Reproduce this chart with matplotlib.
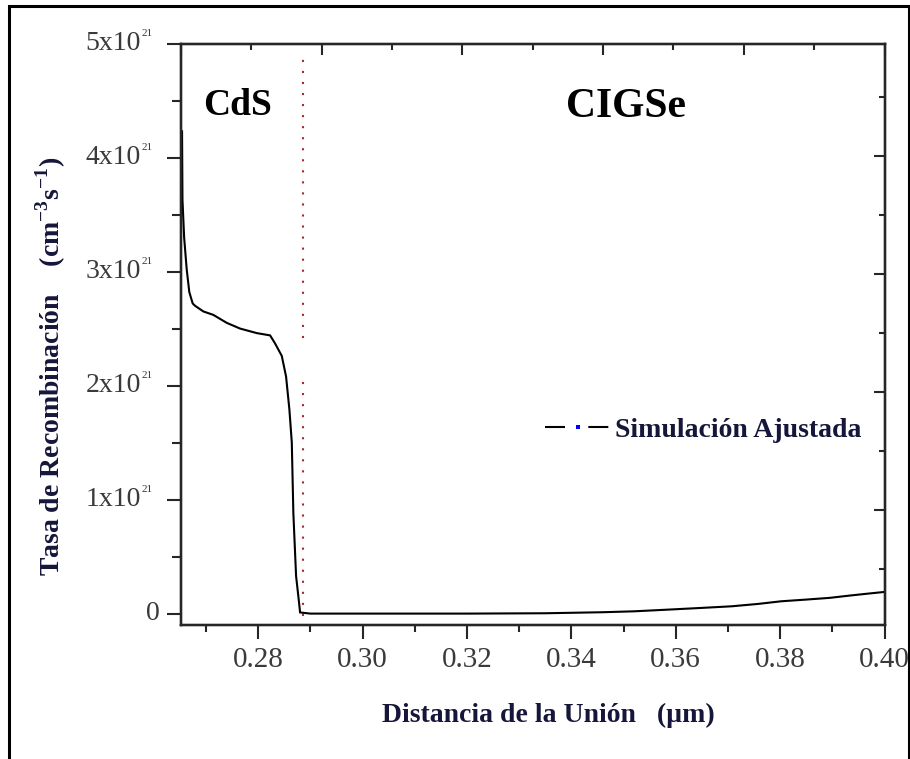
import matplotlib
matplotlib.use("Agg")
import matplotlib.pyplot as plt
from matplotlib.lines import Line2D
from matplotlib.patches import Rectangle
from matplotlib.legend_handler import HandlerTuple
from matplotlib.ticker import MultipleLocator
from matplotlib import transforms

plt.rcParams["font.family"] = ["Liberation Serif", "DejaVu Serif"]
plt.rcParams["mathtext.fontset"] = "custom"
plt.rcParams["mathtext.rm"] = "Liberation Serif"
plt.rcParams["mathtext.bf"] = "Liberation Serif:bold"

# Recombination rate profile (units of 1e21 cm^-3 s^-1) vs distance from the junction (um)
distance = [0.26540, 0.26548, 0.26580, 0.26629, 0.26679, 0.26744, 0.26788, 0.26948,
            0.27139, 0.27396, 0.27651, 0.27972, 0.28227, 0.28322, 0.28451, 0.28533,
            0.28597, 0.28643, 0.28673, 0.28725, 0.28769, 0.28802, 0.29000, 0.30000,
            0.32000, 0.33500, 0.34600, 0.35200, 0.35860, 0.36500, 0.37070, 0.37580,
            0.38020, 0.38500, 0.38950, 0.39330, 0.39680, 0.40000]
rate = [4.23, 3.63, 3.30, 3.02, 2.82, 2.72, 2.70, 2.65,
        2.62, 2.55, 2.50, 2.46, 2.44, 2.37, 2.26, 2.08,
        1.79, 1.50, 0.88, 0.33, 0.15, 0.01, 0.0, 0.0,
        0.0, 0.003, 0.012, 0.020, 0.035, 0.050, 0.064, 0.085,
        0.108, 0.123, 0.138, 0.158, 0.175, 0.190]
SCALE = 1e21

interface_x = 0.2885
interface_segments = [(-0.12, 2.08), (2.42, 4.92)]

x_ticks = [0.28, 0.30, 0.32, 0.34, 0.36, 0.38, 0.40]
x_tick_labels = ["0.28", "0.30", "0.32", "0.34", "0.36", "0.38", "0.40"]
y_ticks = [0, 1, 2, 3, 4, 5]

W, H = 910, 759
fig = plt.figure(figsize=(W / 100, H / 100), dpi=100)
L, R, T, B = 181, 884.5, 43.5, 625
ax = fig.add_axes([L / W, 1 - B / H, (R - L) / W, (B - T) / H])

spine_c = "#262626"
label_c = "#3a3a3a"
title_c = "#16163a"

ax.plot(distance, [r * SCALE for r in rate], color="black", lw=1.5,
        solid_joinstyle="miter", zorder=3)
for y0, y1 in interface_segments:
    ax.plot([interface_x, interface_x], [y0 * SCALE, y1 * SCALE], color="#a8282a",
            lw=1.5, linestyle=(0, (1, 4.3)), zorder=2)

ax.set_xlim(0.2652, 0.40)
ax.set_ylim(-0.1 * SCALE, 5 * SCALE)

for s in ax.spines.values():
    s.set_color(spine_c)
    s.set_linewidth(1.6)

ax.set_xticks(x_ticks)
ax.set_xticklabels(x_tick_labels)
ax.xaxis.set_minor_locator(MultipleLocator(0.01))
ax.set_yticks([v * SCALE for v in y_ticks])
ax.yaxis.set_minor_locator(MultipleLocator(0.5 * SCALE))
ax.tick_params(axis="both", which="major", direction="out", length=10, width=1.5,
               color=spine_c, labelsize=21, labelcolor=label_c)
ax.tick_params(axis="x", which="minor", direction="out", length=5, width=1.5, color=spine_c)
ax.tick_params(axis="y", which="minor", direction="out", length=6.5, width=1.5, color=spine_c)
ax.tick_params(axis="x", which="major", pad=6)
ax.tick_params(axis="y", labelleft=False)
ax.tick_params(top=False, right=False, which="both")

# y tick labels of the form  Nx10^21
ytrans = ax.get_yaxis_transform()
sup = transforms.offset_copy(ytrans, fig=fig, x=0, y=7, units="points")
for v in y_ticks:
    if v == 0:
        ax.text((160 - L) / (R - L), 0, "0", transform=ytrans, ha="right", va="center",
                fontsize=20, color=label_c)
    else:
        ax.text((141 - L) / (R - L), v * SCALE, f"{v}x10", transform=ytrans, ha="right",
                va="center", fontsize=20, color=label_c)
        ax.text((142 - L) / (R - L), v * SCALE, "21", transform=sup, ha="left",
                va="center", fontsize=8, color=label_c)

# mirrored axes: top and right carry inward ticks only
axt = ax.twiny()
axt.set_xlim(0, 5)
axt.xaxis.set_major_locator(MultipleLocator(1))
axt.xaxis.set_minor_locator(MultipleLocator(0.5))
axt.tick_params(axis="x", which="major", direction="in", length=8, width=1.5,
                color=spine_c, labeltop=False)
axt.tick_params(axis="x", which="minor", direction="in", length=4, width=1.5, color=spine_c)
axr = ax.twinx()
axr.set_ylim(-0.975, 3.95)
axr.yaxis.set_major_locator(MultipleLocator(1))
axr.yaxis.set_minor_locator(MultipleLocator(0.5))
axr.tick_params(axis="y", which="major", direction="in", length=8, width=1.5,
                color=spine_c, labelright=False)
axr.tick_params(axis="y", which="minor", direction="in", length=4, width=1.5, color=spine_c)
for a in (axt, axr):
    a.patch.set_visible(False)
    for s in a.spines.values():
        s.set_color(spine_c)
        s.set_linewidth(1.6)

# region labels
ax.text((203 - L) / (R - L), (B - 115) / (B - T), "CdS", transform=ax.transAxes,
        fontsize=27, fontweight="bold", color="black", ha="left", va="baseline")
ax.text((566 - L) / (R - L), (B - 117) / (B - T), "CIGSe", transform=ax.transAxes,
        fontsize=30, fontweight="bold", color="black", ha="left", va="baseline")

# axis titles
ax.text((548 - L) / (R - L), (B - 715) / (B - T), "Distancia de la Unión   (µm)",
        transform=ax.transAxes, ha="center", va="center", fontsize=20,
        fontweight="bold", color=title_c)
ax.text((51 - L) / (R - L), (B - 366) / (B - T),
        r"Tasa de Recombinación    (cm$^{\mathbf{-3}}$s$^{\mathbf{-1}}$)",
        transform=ax.transAxes, ha="center", va="center", rotation=90, fontsize=20,
        fontweight="bold", color=title_c)

# legend: black dashes with a blue dot
dash_h = Line2D([], [], color="black", lw=1.5, linestyle=(0, (9.6, 11.2)))
dot_h = Line2D([], [], color="blue", lw=0, marker="s", markersize=2.2,
               markeredgewidth=0)
leg = axr.legend([(dash_h, dot_h)], ["Simulación Ajustada"],
                 handler_map={tuple: HandlerTuple(ndivide=1)},
                 loc="center left",
                 bbox_to_anchor=((545 - L) / (R - L), (B - 430) / (B - T)),
                 bbox_transform=ax.transAxes, frameon=False, borderpad=0,
                 borderaxespad=0, handlelength=2.35, handletextpad=0.18, numpoints=1,
                 prop={"size": 20, "weight": "bold"})
for t in leg.get_texts():
    t.set_color(title_c)

# outer frame
fig.add_artist(Rectangle((8.5 / W, -0.02), 900 / W, 1.02 - 5.5 / H, fill=False,
                         edgecolor="black", lw=2.2, transform=fig.transFigure))

fig.savefig("out.png", dpi=100)
